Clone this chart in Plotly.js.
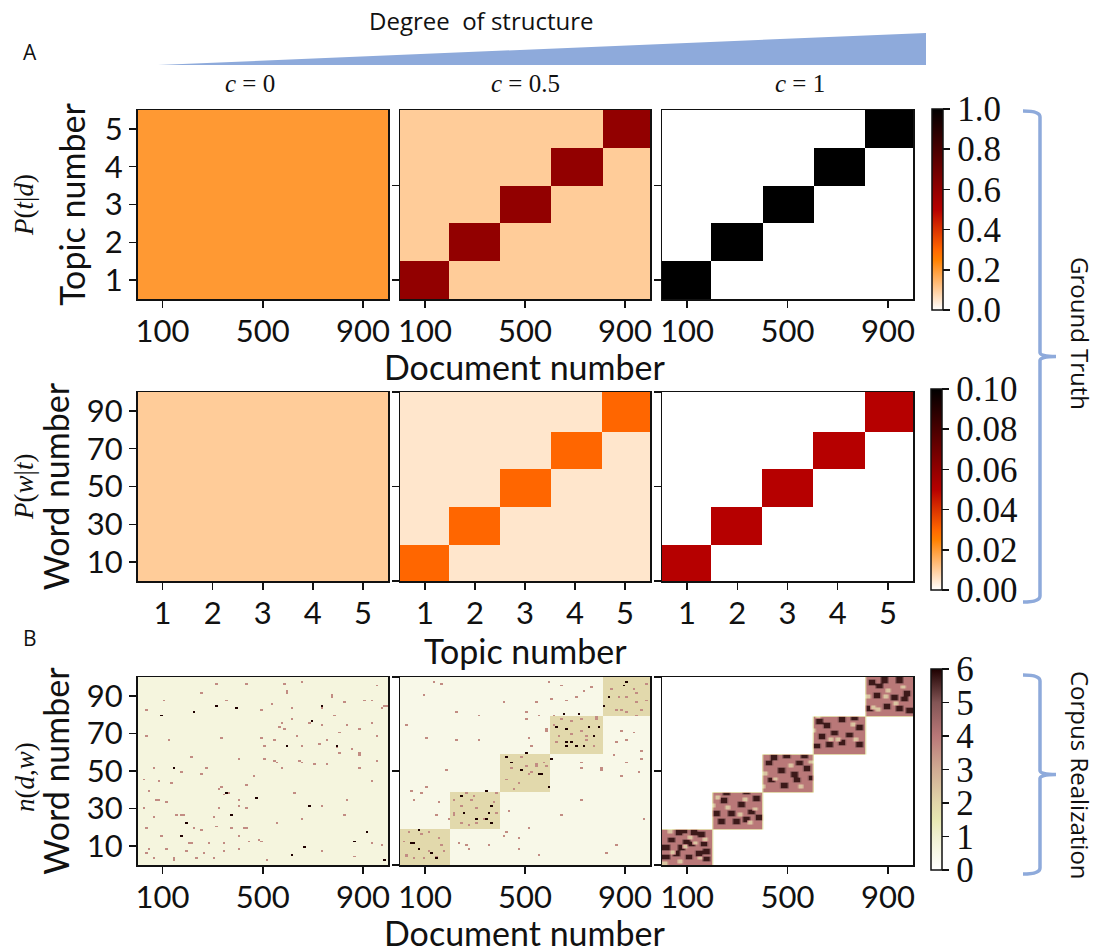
<!DOCTYPE html>
<html><head><meta charset="utf-8">
<script src="https://cdn.plot.ly/plotly-3.0.1.min.js"></script>
<style>html,body{margin:0;padding:0;background:#fff;overflow:hidden}#chart{width:1099px;height:952px}</style>
</head><body><div id="chart"></div>
<script>
// ---------- DATA ----------
const docEdges   = [0, 197, 401, 605, 810, 1000];
const topicEdges = [0.5, 1.5, 2.5, 3.5, 4.5, 5.5];
const topicXEdges= [0.5, 1.47, 2.49, 3.51, 4.54, 5.5];
const wordEdges  = [0, 19, 39, 59, 79, 100];

const pTopicDoc_c0  = [[.2,.2,.2,.2,.2],[.2,.2,.2,.2,.2],[.2,.2,.2,.2,.2],[.2,.2,.2,.2,.2],[.2,.2,.2,.2,.2]];
const pTopicDoc_c05 = [[.6,.1,.1,.1,.1],[.1,.6,.1,.1,.1],[.1,.1,.6,.1,.1],[.1,.1,.1,.6,.1],[.1,.1,.1,.1,.6]];
const pTopicDoc_c1  = [[1,0,0,0,0],[0,1,0,0,0],[0,0,1,0,0],[0,0,0,1,0],[0,0,0,0,1]];

const pWordTopic_c0  = [[.01,.01,.01,.01,.01],[.01,.01,.01,.01,.01],[.01,.01,.01,.01,.01],[.01,.01,.01,.01,.01],[.01,.01,.01,.01,.01]];
const pWordTopic_c05 = [[.03,.005,.005,.005,.005],[.005,.03,.005,.005,.005],[.005,.005,.03,.005,.005],[.005,.005,.005,.03,.005],[.005,.005,.005,.005,.03]];
const pWordTopic_c1  = [[.05,0,0,0,0],[0,.05,0,0,0],[0,0,.05,0,0],[0,0,0,.05,0],[0,0,0,0,.05]];

// Corpus counts: the cell-level noise cannot be read one cell at a time, so each panel
// is an estimated level plus the specks visible in the crops, as [document, word].
const c0_level = 0.7;
const c0_dark = [[99,79],[396,83],[593,63],[370,26],[174,15],[191,22],[664,9],[619,5],[912,17],[980,2],[474,35],[868,12],[223,81],[680,31],[143,51],[359,38],[319,84],[737,84],[790,63],[690,76]];
const c0_rose = [[36,82],[103,87],[356,87],[250,91],[590,91],[737,83],[784,79],[984,84],[36,68],[123,66],[276,51],[403,56],[557,54],[790,62],[884,58],[657,54],[837,34],[931,44],[330,41],[437,19],[176,26],[316,20],[497,12],[557,22],[657,24],[864,4],[730,31],[623,38],[23,45],[69,51],[210,57],[330,67],[490,67],[577,75],[684,75],[837,74],[931,87],[770,90],[430,96],[310,96],[36,6],[143,3],[263,6],[517,2],[730,7],[931,11],[977,10],[824,26],[210,11],[76,34],
 [40,39],[80,44],[134,43],[174,49],[254,48],[114,33],[80,34],[180,26],[194,22],[154,26],[220,19],[254,18],[300,25],[320,30],[400,34],[327,40],[347,37],[367,38],[400,31],[434,30],[460,47],[434,42],[27,30],[60,25],[33,19],[93,15],[114,8],[40,8],[194,7],[207,11],[280,11],[347,11],[374,19],[407,15],[427,19],[447,12],[487,13],[400,8],[347,7],[307,3],[234,3],[147,2],[67,3],
 [490,82],[536,85],[610,83],[617,77],[563,73],[583,72],[503,63],[543,66],[630,68],[657,63],[723,64],[757,66],[804,70],[770,89],[824,86],[904,87],[971,83],[991,84],[937,75],[957,68],[884,72],[850,61],[884,59],[804,59],[703,53],[643,55],[577,51],[543,55],[503,56],[757,53],[884,51],[951,55],[650,97],[583,96],[590,92],[951,95],[737,74]];

const c05_level = 0.5;
const c05_blockLevel = 1.9;
const c05_dark = [[76,18],[43,11],[77,8],[143,3],[120,6],[57,11],[240,36],[340,39],[257,27],[340,24],[360,22],[367,31],[300,24],[353,27],[424,57],[449,54],[560,48],[600,56],[591,41],[484,50],[653,80],[713,80],[627,73],[660,72],[753,73],[797,73],[771,68],[660,65],[687,65],[660,63],[704,63],[733,63],[893,95],[909,97],[833,89],[813,84],[557,48],[504,59]];
const c05_rose = [[133,97],[160,96],[93,90],[227,81],[313,79],[413,86],[540,86],[607,88],[733,92],[27,74],[100,67],[220,66],[313,66],[513,67],[580,71],[180,50],[100,41],[53,34],[140,26],[807,50],[887,47],[967,56],[727,51],[647,26],[553,5],[420,17],[267,10],[827,6],[973,24],[867,10],[513,19],[727,34],[900,66],[947,79],[447,51],[547,52],[513,48],[420,45],[573,54],[473,43],[280,34],[213,26],[300,22],[240,31],[380,38],[687,76],[780,78],[620,65],[740,66],[20,4],[113,17],[167,10],[53,3],[860,82],[940,91],[980,87],[900,81],
 [212,34],[219,27],[199,24],[279,21],[246,22],[305,30],[385,27],[299,36],[266,38],[372,33],[332,24],[27,5],[86,16],[113,7],[166,10],[173,7],[146,4],[33,17],[93,3],[153,14],[13,12],[80,38],[146,26],[40,39],[153,33],[452,40],[478,8],[412,15],[272,8],[352,10],[239,11],[471,14],[438,28],
 [647,77],[680,76],[613,74],[633,68],[727,71],[687,69],[747,68],[773,63],[720,77],[613,79],[787,77],[873,89],[907,89],[940,86],[880,82],[960,82],[980,96],[933,93],[840,93],[547,53],[580,52],[500,52],[520,49],[487,57],[500,81],[520,63],[593,97],[640,95],[707,89],[767,94],[660,87],[507,77],[553,79],[587,72],[867,65],[933,70],[887,71],[853,58],[900,54],[967,60],[727,54],[953,49],[807,51]];

const c1_blockLevel = 4.0;
const c1_dark = [[19,9],[32,13],[65,17],[85,18],[125,17],[151,16],[92,12],[118,11],[165,11],[52,6],[105,4],[145,6],[178,3],[19,4],[72,9],[178,7],[218,27],[244,34],[331,39],[231,23],[278,27],[311,32],[351,28],[377,35],[291,23],[331,24],[384,25],[258,38],[423,54],[443,57],[490,58],[543,54],[563,58],[470,50],[523,48],[576,51],[430,45],[483,42],[537,45],[590,46],[623,76],[656,74],[716,77],[769,78],[789,73],[636,68],[689,70],[742,69],[663,64],[716,65],[789,64],[616,63],[835,97],[889,98],[949,98],[975,91],[856,90],[922,89],[829,83],[895,84],[948,83],[982,82],[869,95],[961,88]];
const c1_light = [[45,7],[98,10],[32,18],[158,4],[72,2],[171,14],[138,12],[12,1],[112,15],[224,36],[337,35],[317,27],[377,30],[264,31],[351,23],[205,32],[417,49],[510,53],[596,55],[457,46],[556,42],[404,42],[629,79],[663,80],[703,67],[762,75],[609,72],[776,67],[676,67],[849,84],[908,93],[822,90],[936,86],[968,95],[863,83],[895,90]];

const docTicks = [100, 500, 900];
const topicTicks = [1, 2, 3, 4, 5];
const wordTicks = [10, 30, 50, 70, 90];
const cbar1 = [0, .2, .4, .6, .8, 1];
const cbar1Text = ['0.0','0.2','0.4','0.6','0.8','1.0'];
const cbar2 = [0, .02, .04, .06, .08, .1];
const cbar2Text = ['0.00','0.02','0.04','0.06','0.08','0.10'];
const cbar3 = [0, 1, 2, 3, 4, 5, 6];

// ---------- helpers ----------
const W = 1099, H = 952, INK = '#111111', BLUE = '#8EAADB';
const px = x => x / W, py = y => 1 - y / H;
const heatScale = [[0,'#ffffff'],[.25,'#ff8000'],[.3,'#ff6600'],[.5,'#b60000'],[1,'#000000']];
const pinkScale = [[0,'#ffffff'],[.1667,'#f0f0d0'],[.25,'#e7e7b2'],[.3333,'#e1d6aa'],[.5,'#d0ab93'],[.6667,'#b97878'],[.8333,'#835555'],[1,'#1e0000']];

function blockOf(edges, v){ for(let i=0;i<5;i++) if(v>=edges[i] && v<edges[i+1]) return i; return 4; }
function corpus(level, blockLevel){
  const z=[];
  for(let w=0;w<100;w++){ const row=[];
    for(let d=0;d<100;d++){
      const same = blockOf(docEdges,d*10+5)===blockOf(wordEdges,w+.5);
      row.push(same?blockLevel:level);
    } z.push(row); }
  return z;
}
// Writes a reading into the grid; spread covers the blob's width, never the empty (zero) cells.
function put(z, list, val, size){
  const off=Math.floor(size/2);
  list.forEach(([d,w])=>{
    const c=Math.min(99,Math.floor(d/10)), r=Math.min(99,Math.floor(w));
    for(let i=-off;i<size-off;i++)for(let j=-off;j<size-off;j++){
      const rr=r+i, cc=c+j;
      if(rr>=0&&rr<100&&cc>=0&&cc<100&&z[rr][cc]>0) z[rr][cc]=val;
    }
  });
  return z;
}
const nC0 = put(put(corpus(c0_level,c0_level),c0_rose,3.6,1),c0_dark,6,1);
const nC05= put(put(corpus(c05_level,c05_blockLevel),c05_rose,3.6,1),c05_dark,6,1);
const nC1 = put(put(corpus(0,c1_blockLevel),c1_dark,5.7,3),c1_light,2.4,2);

// ---------- geometry ----------
const cols = [[137.5,388],[400,650],[662,913]];
const rows = [[110,299],[392,581],[677,865]];

const traces=[], layout={
  width:W,height:H,margin:{l:0,r:0,t:0,b:0},paper_bgcolor:'#fff',plot_bgcolor:'#fff',showlegend:false,
  font:{family:'Lato, sans-serif',color:INK},
  annotations:[],shapes:[],
  coloraxis:{cmin:0,cmax:1,colorscale:heatScale,colorbar:cb(cbar1,cbar1Text,109,201,932)},
  coloraxis2:{cmin:0,cmax:.1,colorscale:heatScale,colorbar:cb(cbar2,cbar2Text,389,201,931)},
  coloraxis3:{cmin:0,cmax:6,colorscale:pinkScale,colorbar:cb(cbar3,cbar3.map(String),669,201,931)}
};
function cb(vals,text,top,len,left){
  return {tickmode:'array',tickvals:vals,ticktext:text,ticks:'outside',ticklen:7,tickwidth:1.5,tickcolor:INK,
    tickfont:{family:'Liberation Serif, serif',size:35,color:INK},
    x:px(left),xanchor:'left',xpad:0,y:py(top),yanchor:'top',ypad:0,
    thickness:11,thicknessmode:'pixels',len:len,lenmode:'pixels',
    outlinewidth:1.5,outlinecolor:INK,borderwidth:0};
}
const panels=[
 {z:pTopicDoc_c0, r:0,c:0,x:docEdges,y:topicEdges,ca:'coloraxis',sm:false},
 {z:pTopicDoc_c05,r:0,c:1,x:docEdges,y:topicEdges,ca:'coloraxis',sm:false},
 {z:pTopicDoc_c1, r:0,c:2,x:docEdges,y:topicEdges,ca:'coloraxis',sm:false},
 {z:pWordTopic_c0, r:1,c:0,x:topicXEdges,y:wordEdges,ca:'coloraxis2',sm:false},
 {z:pWordTopic_c05,r:1,c:1,x:topicXEdges,y:wordEdges,ca:'coloraxis2',sm:false},
 {z:pWordTopic_c1, r:1,c:2,x:topicXEdges,y:wordEdges,ca:'coloraxis2',sm:false},
 {z:nC0, r:2,c:0,ca:'coloraxis3',sm:false},
 {z:nC05,r:2,c:1,ca:'coloraxis3',sm:false},
 {z:nC1, r:2,c:2,ca:'coloraxis3',sm:'best'}
];
const xRanges=[[0,1000],[0.5,5.5],[0,1000]], yRanges=[[0.5,5.5],[0,100],[0,100]];
const xTicks=[docTicks,topicTicks,docTicks], yTicks=[topicTicks,wordTicks,wordTicks];
const innerY=[[1,3.5],[0,50,100],[0,50,100]];
const yTitles=[ 'Topic number','Word number','Word number' ];
const yStand=[9,7,7];

panels.forEach((p,i)=>{
  const id=i===0?'':String(i+1);
  const t={type:'heatmap',z:p.z,coloraxis:p.ca,xaxis:'x'+id,yaxis:'y'+id,zsmooth:p.sm,hoverinfo:'skip'};
  if(p.x){t.x=p.x;t.y=p.y;} else {t.x0=5;t.dx=10;t.y0=.5;t.dy=1;}
  traces.push(t);
  const base={showgrid:false,zeroline:false,showline:true,mirror:true,linewidth:1.5,linecolor:INK,
    ticks:'outside',ticklen:7,tickwidth:1.5,tickcolor:INK,tickfont:{family:'Lato, sans-serif',size:31,color:INK},tickmode:'array'};
  const xa=Object.assign({},base,{domain:[px(cols[p.c][0]),px(cols[p.c][1])],range:xRanges[p.r],tickvals:xTicks[p.r],anchor:'y'+id,ticklabelstandoff:-3});
  const ya=Object.assign({},base,{domain:[py(rows[p.r][1]),py(rows[p.r][0])],range:yRanges[p.r],anchor:'x'+id});
  if(p.c===0){ya.tickvals=yTicks[p.r];ya.title={text:yTitles[p.r],font:{family:'Lato, sans-serif',size:34,color:INK},standoff:yStand[p.r]};}
  else {ya.tickvals=innerY[p.r];ya.showticklabels=false;}
  layout['xaxis'+id]=xa; layout['yaxis'+id]=ya;
});

// ---------- decorations ----------
function note(text,x,y,size,fam,angle){
  layout.annotations.push({text:text,x:px(x),y:py(y),xref:'paper',yref:'paper',showarrow:false,xanchor:'center',yanchor:'middle',
    textangle:angle||0,font:{family:fam,size:size,color:INK}});
}
const SANS='Open Sans, sans-serif', SERIF='Liberation Serif, serif', LATO='Lato, sans-serif';
const NB='\u00a0';
note('Document number',525,367,34,LATO);
note('Topic number',525,650,34,LATO);
note('Document number',525,932,34,LATO);
note('Degree'+NB+NB+'of'+NB+'structure',481,20,24,SANS);
note('A',30,52,21,SANS);
note('B',30,638,21,SANS);
note('<i>c</i>'+NB+'='+NB+'0',250,83,25,SERIF);
note('<i>c</i>'+NB+'='+NB+'0.5',525,83,25,SERIF);
note('<i>c</i>'+NB+'='+NB+'1',800,83,25,SERIF);
note('<i>P</i>(<i>t</i>|<i>d</i>)',24,205,27,SERIF,-90);
note('<i>P</i>(<i>w</i>|<i>t</i>)',24,487,27,SERIF,-90);
note('<i>n</i>(<i>d</i>,<i>w</i>)',25,777,27,SERIF,-90);
note('Ground'+NB+'Truth',1081,333,24,SANS,90);
note('Corpus'+NB+'Realization',1081,775,24,SANS,90);

const P=(x,y)=>px(x).toFixed(5)+' '+py(y).toFixed(5);
layout.shapes.push({type:'path',xref:'paper',yref:'paper',path:'M '+P(158,65)+' L '+P(926,33)+' L '+P(926,65)+' Z',fillcolor:BLUE,line:{width:0}});
function bracket(top,bot){
  const mid=(top+bot)/2, xa=1023, xb=1040, xc=1056;
  layout.shapes.push({type:'path',xref:'paper',yref:'paper',line:{color:BLUE,width:3.5},fillcolor:'rgba(0,0,0,0)',
    path:'M '+P(xa,top)+' Q '+P(xb,top)+' '+P(xb,top+6)+' L '+P(xb,mid-4)+' Q '+P(xb,mid)+' '+P(xc,mid)+' Q '+P(xb,mid)+' '+P(xb,mid+4)+' L '+P(xb,bot-6)+' Q '+P(xb,bot)+' '+P(xa,bot)});
}
bracket(111,602);
bracket(675,874);

Plotly.newPlot('chart',traces,layout,{displayModeBar:false,staticPlot:true});
</script></body></html>
